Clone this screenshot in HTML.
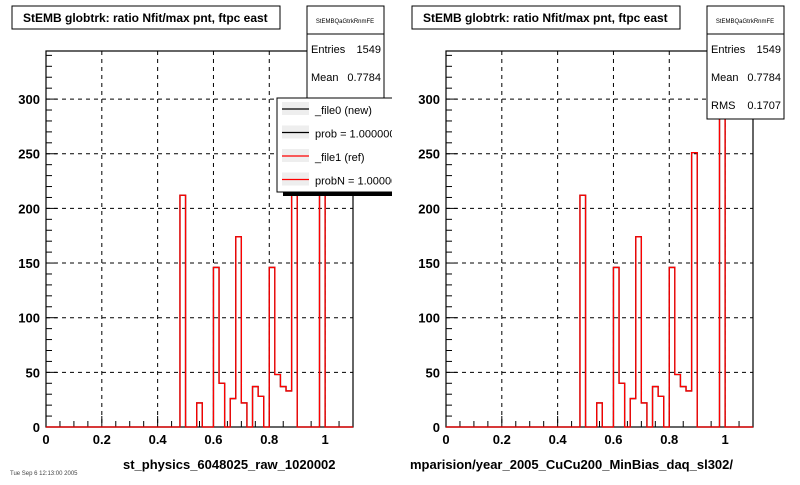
<!DOCTYPE html>
<html><head><meta charset="utf-8"><style>
body{margin:0;background:#fff;width:800px;height:480px;overflow:hidden;font-family:"Liberation Sans",sans-serif}
svg text{font-family:"Liberation Sans",sans-serif}
</style></head><body>
<svg id="c" width="800" height="480" xmlns="http://www.w3.org/2000/svg"></svg>
<script>
const binCount = 55;
const xMin = 0, xMax = 1.1, yMax = 344;
const xTicks = [0, 0.2, 0.4, 0.6, 0.8, 1];
const yTicks = [0, 50, 100, 150, 200, 250, 300];
const newCounts = [0,0,0,0,0,0,0,0,0,0,0,0,0,0,0,0,0,0,0,0,0,0,0,0,212,0,0,22,0,0,146,40,0,26,174,22,0,37,28,0,146,48,37,33,251,0,0,0,0,329,0,0,0,0,0];
const refCounts = [0,0,0,0,0,0,0,0,0,0,0,0,0,0,0,0,0,0,0,0,0,0,0,0,212,0,0,22,0,0,146,40,0,26,174,22,0,37,28,0,146,48,37,33,251,0,0,0,0,329,0,0,0,0,0];
const statLabels = ["Entries","Mean","RMS"];
const statValues = ["1549","0.7784","0.1707"];
const footers = ["st_physics_6048025_raw_1020002","mparision/year_2005_CuCu200_MinBias_daq_sl302/"];

const svg = document.getElementById('c');
const NS = 'http://www.w3.org/2000/svg';
function mk(tag, attrs, parent){const e=document.createElementNS(NS,tag);for(const k in attrs)e.setAttribute(k,attrs[k]);(parent||svg).appendChild(e);return e;}

function panel(ox, idx){
  const g = mk('g',{});
  
  
  const L=ox+46, R=ox+353, T=51, B=427;
  const sx = v => L + (v-xMin)/(xMax-xMin)*(R-L);
  const sy = v => B - v/yMax*(B-T);
  xTicks.forEach(t=>{ if(t>0){ const l=mk('line',{x1:sx(t),x2:sx(t),y1:T,y2:B,stroke:'#000','stroke-dasharray':'4,4','stroke-width':1},g);
     }});
  yTicks.forEach(t=>{ if(t>0){ const l=mk('line',{x1:L,x2:R,y1:sy(t),y2:sy(t),stroke:'#000','stroke-dasharray':'4,4','stroke-width':1},g);
     }});
  const fr=mk('rect',{x:L,y:T,width:R-L,height:B-T,fill:'none',stroke:'#000','stroke-width':1.2},g);
   
  for(let v=0; v<=1.1001; v+=0.05){ const big = Math.abs(v*5-Math.round(v*5))<1e-6;
    mk('line',{x1:sx(v),x2:sx(v),y1:B,y2:B-(big?11:6),stroke:'#000'},g);}
  for(let v=0; v<=yMax; v+=10){ const big=v%50===0;
    mk('line',{x1:L,x2:L+(big?11:6),y1:sy(v),y2:sy(v),stroke:'#000'},g);}
  xTicks.forEach(t=>{const tx=mk('text',{x:sx(t),y:B+17,'text-anchor':'middle','font-size':13,'font-weight':'bold'},g);tx.textContent=String(t);
     });
  yTicks.forEach(t=>{const tx=mk('text',{x:L-6,y:sy(t)+5,'text-anchor':'end','font-size':13,'font-weight':'bold'},g);tx.textContent=String(t);
     });
  function hist(counts, color, name){
    const w=(xMax-xMin)/binCount; let d='M'+sx(xMin)+','+sy(0);
    for(let i=0;i<binCount;i++){ d+=' L'+sx(xMin+i*w)+','+sy(counts[i])+' L'+sx(xMin+(i+1)*w)+','+sy(counts[i]); }
    d+=' L'+sx(xMax)+','+sy(0);
    const p=mk('path',{d:d,fill:'none',stroke:color,'stroke-width':1.3},g);
     
  }
  hist(newCounts,'#000','new-histogram');
  hist(refCounts,'#f00','ref-histogram');
  const tb=mk('rect',{x:ox+12,y:6,width:268,height:23,fill:'#fff',stroke:'#000'},g);
   
  const tt=mk('text',{x:ox+23,y:22,'font-size':12,'font-weight':'bold'},g);
  tt.textContent='StEMB globtrk: ratio Nfit/max pnt, ftpc east';
   
  const sb=mk('rect',{x:ox+307,y:6,width:77,height:113,fill:'#fff',stroke:'#000'},g);
   
  mk('line',{x1:ox+307,x2:ox+384,y1:34,y2:34,stroke:'#000'},g);
  const sh=mk('text',{x:ox+345,y:23,'text-anchor':'middle','font-size':6},g); sh.textContent='StEMBQaGtrkRnmFE';
   
  statLabels.forEach((s,i)=>{
    const a=mk('text',{x:ox+311,y:53+i*28,'font-size':11},g); a.textContent=s;
     
    const b=mk('text',{x:ox+381,y:53+i*28,'font-size':11,'text-anchor':'end'},g); b.textContent=statValues[i];
     
  });
  const ft=mk('text',{x:ox+(idx===0?123:10),y:469,'font-size':13,'font-weight':'bold'},g);
  ft.textContent=footers[idx];
   
  return g;
}
panel(0,0);
panel(400,1);

const lg=mk('g',{});


mk('rect',{x:283,y:192,width:117,height:4,fill:'#000'},lg);
mk('rect',{x:277,y:98,width:125,height:94,fill:'#fff',stroke:'#000'},lg);
const legItems=[['_file0 (new)','#000'],['prob = 1.000000','#000'],['_file1 (ref)','#f00'],['probN = 1.000000','#f00']];
legItems.forEach((it,i)=>{
  const y=109+i*23.5;
  mk('rect',{x:282,y:y-7,width:27,height:13,fill:'#eee'},lg);
  mk('line',{x1:282,x2:309,y1:y,y2:y,stroke:it[1],'stroke-width':1.2},lg);
  const t=mk('text',{x:315,y:y+5,'font-size':11},lg); t.textContent=it[0];
   
});
mk('rect',{x:392,y:95,width:17,height:110,fill:'#fff'},lg);
const tiny=mk('text',{x:10,y:475,'font-size':6,fill:'#444'}); tiny.textContent='Tue Sep  6 12:13:00 2005';
 
</script>
</body></html>
